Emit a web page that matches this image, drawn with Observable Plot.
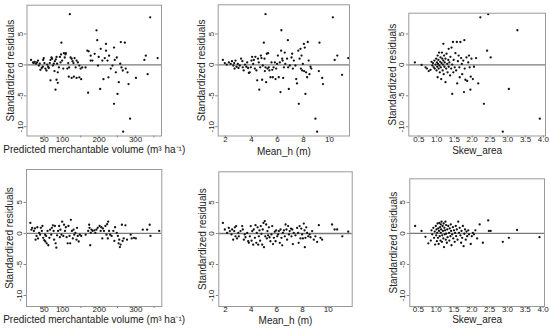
<!DOCTYPE html>
<html><head><meta charset="utf-8">
<script src="https://cdn.jsdelivr.net/npm/d3@7"></script>
<script src="https://cdn.jsdelivr.net/npm/@observablehq/plot@0.6"></script>
<style>
body{margin:0;background:#fff}
#c{position:relative;width:550px;height:328px;overflow:hidden;font-family:"Liberation Sans",Arial,sans-serif}
#c > div{position:absolute}
</style></head><body><div id="c"></div>
<script>
// Top row: model 1 residuals vs predictors
const volTop = [[13.8,0.8],[19.3,0.4],[21,0.3],[24,0.5],[27.5,0.2],[30,0.4],[33,0.7],[35,-0.1],[37.6,0.2],[39.4,-0.8],[43,-0.5],[46,-0.3],[47,0.8],[48.6,1.1],[50.5,0.3],[53,-0.6],[56,-0.9],[58,0.05],[60.6,-0.3],[62.4,-0.5],[65,0.3],[67,0.8],[69.7,1.2],[71.6,1.0],[73.4,-0.1],[76,0.2],[78,-1.0],[79,0.6],[81.7,0.9],[83.5,1.3],[85,0.2],[87,-1.2],[90,-0.4],[92.7,1.3],[94.5,0.4],[96,1.7],[99,0.7],[102,-0.6],[103.7,1.9],[106,1.2],[109,1.9],[113,-0.6],[115.6,0.3],[118,-0.4],[122,1.2],[125,1.0],[127.5,0.6],[130,0.3],[133,1.1],[136,-0.4],[138.5,0.7],[142,0.4],[146,-0.1],[149.5,-0.6],[154,-0.4],[67,-2.5],[83.5,-2.4],[87,-2.9],[80.7,-4.0],[117,-1.9],[125,-2.1],[131,-1.9],[138.5,-2.1],[146,-2.0],[151,-2.3],[120,8.2],[97,3.6],[108,1.7],[163,-0.4],[168,2.3],[171.6,2.2],[170,-4.5],[177,0.7],[181.7,0.7],[177,1.5],[188,1.8],[193,5.6],[195,4.0],[199,1.3],[197,-0.1],[204.6,2.6],[203,-3.9],[209,0.7],[212,-2.3],[215.6,1.1],[219,3.4],[219,2.3],[223,0.7],[225.7,-2.0],[227.5,1.5],[232,-0.6],[236.7,-0.1],[241,2.8],[243,0.8],[246,-1.2],[248.6,1.2],[250.5,-4.7],[254,-2.8],[241,-6.3],[258,0.2],[259.6,3.7],[261.5,-0.4],[265,-0.9],[266,-10.8],[270.6,3.6],[273,-0.6],[278,-1.2],[280.7,-3.1],[285,-8.7],[301,-2.1],[324,0.8],[328,1.5],[333,-1.5],[340,7.7],[360.5,1.1]];
const hTop = [[1.8,0.8],[1.95,0.3],[2.1,0.05],[2.26,0.4],[2.4,0.15],[2.5,0.6],[2.6,-0.1],[2.67,0.3],[2.7,-0.6],[2.77,0.7],[2.85,-0.3],[2.95,0.15],[3.0,-0.5],[3.1,-0.1],[3.2,1.0],[3.3,0.6],[3.33,-0.4],[3.4,-0.9],[3.5,0.05],[3.6,-0.3],[3.67,0.4],[3.74,-0.5],[3.8,-1.3],[3.87,-1.2],[3.95,-0.4],[4.0,0.7],[4.05,1.3],[4.13,0.15],[4.18,0.8],[4.26,-0.6],[4.3,1.3],[4.38,-0.9],[4.44,-2.5],[4.5,1.0],[4.56,0.4],[4.6,-4.0],[4.67,-0.4],[4.72,1.5],[4.77,1.1],[4.82,-2.4],[4.87,-0.1],[4.95,3.6],[5.0,1.0],[5.03,-1.0],[5.08,8.2],[5.08,-0.4],[5.13,-2.8],[5.18,1.8],[5.23,-0.6],[5.28,1.9],[5.33,-0.4],[5.38,-0.9],[5.46,-2.0],[5.54,0.4],[5.6,-0.8],[5.64,-2.0],[5.7,-0.4],[5.8,0.4],[5.85,-2.3],[5.9,-0.6],[5.97,0.15],[6.03,1.5],[6.1,-2.0],[6.18,0.4],[6.23,-4.4],[6.28,2.3],[6.3,5.6],[6.36,1.0],[6.4,0.7],[6.44,-2.1],[6.5,-0.4],[6.56,2.0],[6.6,0.15],[6.74,1.0],[6.8,4.0],[6.82,-0.4],[6.87,-3.9],[6.95,-0.1],[7.08,1.2],[7.13,1.8],[7.18,-0.6],[7.26,0.7],[7.38,-0.1],[7.44,-2.3],[7.5,-3.0],[7.6,2.3],[7.64,-6.3],[7.7,1.0],[7.77,2.6],[7.8,-0.6],[7.85,1.5],[7.9,-0.9],[7.95,0.15],[8.03,3.4],[8.05,-1.0],[8.1,2.8],[8.15,-4.7],[8.2,-1.2],[8.28,-2.0],[8.33,3.7],[8.4,0.7],[8.46,-1.5],[8.54,-0.3],[8.6,-0.6],[8.92,-8.7],[9.05,-10.8],[9.18,-1.0],[9.23,3.6],[9.44,-2.1],[9.5,-3.1],[10.26,7.7],[10.4,0.8],[10.6,1.5],[10.97,-1.6],[11.44,1.1]];
const skewTop = [[0.39,0.4],[0.58,0.0],[0.69,-0.4],[0.73,-0.6],[0.78,-1.0],[0.83,-0.8],[0.86,0.5],[0.88,-0.1],[0.9,0.3],[0.92,-0.4],[0.94,0.7],[0.95,-0.6],[0.97,0.05],[0.99,1.0],[1.0,-0.9],[1.01,0.4],[1.02,-0.3],[1.03,1.5],[1.03,-2.0],[1.04,0.15],[1.05,0.8],[1.06,-0.6],[1.07,2.0],[1.08,-0.1],[1.09,-1.2],[1.1,0.5],[1.11,1.2],[1.12,-0.4],[1.13,-2.3],[1.14,0.3],[1.15,2.0],[1.16,1.0],[1.17,-0.9],[1.18,0.05],[1.19,0.7],[1.19,3.4],[1.2,-1.5],[1.21,1.5],[1.22,-0.3],[1.23,0.4],[1.25,-2.8],[1.25,1.0],[1.27,-0.6],[1.28,1.8],[1.3,0.15],[1.31,-1.2],[1.33,0.8],[1.34,2.6],[1.34,-0.3],[1.36,0.4],[1.38,-1.7],[1.39,1.3],[1.41,-0.6],[1.42,2.8],[1.44,0.05],[1.44,-4.7],[1.46,3.7],[1.47,-1.2],[1.48,0.8],[1.51,-0.4],[1.53,1.9],[1.55,-0.9],[1.57,3.7],[1.58,-3.0],[1.6,0.6],[1.62,1.5],[1.64,-0.4],[1.65,-2.0],[1.67,3.7],[1.69,1.1],[1.71,0.15],[1.72,-1.5],[1.75,0.7],[1.77,-4.4],[1.78,4.0],[1.79,-0.6],[1.81,-2.4],[1.84,1.2],[1.86,-2.6],[1.89,0.4],[1.91,1.5],[1.93,-0.4],[1.95,-4.0],[1.96,-1.9],[1.98,1.0],[2.02,-2.3],[2.05,-0.3],[2.11,1.1],[2.17,-3.0],[2.23,7.7],[2.33,-6.3],[2.42,2.3],[2.45,8.2],[2.52,1.2],[2.86,-10.8],[3.03,-3.9],[3.27,5.6],[3.9,-8.7]];
// Bottom row: model 2 residuals vs predictors
const volBottom = [[12,1.7],[15,0.6],[17,0.9],[21.7,0.4],[24.5,0.8],[26.4,-1.0],[29,-0.4],[31,1.0],[33,-0.8],[36,0.1],[38.7,-0.2],[40.6,0.9],[43.4,0.4],[45,1.2],[47,-0.7],[50,-1.1],[52,-0.2],[53,-1.3],[55,-0.4],[56.6,-1.6],[59,0.4],[61,-1.9],[64,-0.7],[66,0.6],[69,-0.2],[70.8,0.9],[73.6,1.3],[75.5,0.4],[77,-1.0],[79,1.2],[81,-1.6],[83,-2.3],[85,-0.3],[87.7,0.4],[90.6,1.2],[92.5,-0.6],[94,0.6],[97,-0.2],[99,1.9],[102,-0.4],[104,1.4],[106.6,0.4],[109,1.0],[111,-0.6],[114,-1.6],[116,1.2],[119,-0.4],[120.8,-1.6],[122.6,2.2],[125.5,0.4],[128,-0.8],[130,0.6],[132,-0.2],[135,0.1],[138,-1.0],[139.6,0.9],[141.5,-0.4],[144,-1.3],[147,-0.2],[151,-0.4],[163,-0.2],[170,0.4],[172.6,1.4],[173.6,0.9],[175.5,-1.9],[177,0.1],[179,0.6],[182,0.4],[187,0.5],[189.6,0.1],[192.5,0.6],[196,0.9],[201,1.2],[204,0.4],[205.7,1.0],[208.5,-0.8],[210,0.8],[213,0.4],[217,1.2],[220,-0.2],[221.7,1.5],[223.6,-0.8],[224.5,1.9],[227,0.4],[230,-0.2],[234,-0.4],[238.7,0.4],[241.5,-1.2],[243.4,1.0],[248,0.1],[251,-0.4],[253,-1.6],[254.7,-1.0],[256.6,-2.2],[258.5,-1.8],[262,1.4],[264,-1.2],[267,-0.8],[271.7,1.3],[276,-1.0],[286,-0.2],[288.7,-0.8],[295,-0.7],[300,-0.8],[319,0.6],[331,0.6],[338,1.4],[340,-0.4],[364,0.4]];
const hBottom = [[1.8,1.7],[1.95,0.65],[2.13,0.1],[2.26,0.9],[2.34,0.4],[2.47,-0.15],[2.52,0.65],[2.6,-1.0],[2.68,0.4],[2.73,1.0],[2.78,-0.45],[2.83,1.2],[2.9,-0.8],[3.0,0.1],[3.04,-0.45],[3.17,0.4],[3.3,1.2],[3.35,0.65],[3.43,-1.0],[3.5,-0.15],[3.56,-0.6],[3.69,0.1],[3.77,-1.25],[3.82,-1.5],[3.9,-0.45],[3.97,1.2],[4.03,-1.15],[4.08,0.4],[4.16,-1.8],[4.2,0.65],[4.29,-0.7],[4.34,1.35],[4.4,-1.5],[4.44,0.1],[4.5,1.0],[4.55,-1.8],[4.6,-0.45],[4.65,0.5],[4.7,-1.15],[4.75,1.2],[4.8,-0.05],[4.86,-1.8],[4.9,0.65],[4.96,1.7],[5.0,-2.2],[5.06,2.0],[5.1,-0.45],[5.17,1.45],[5.22,-0.8],[5.27,0.4],[5.32,-0.3],[5.38,1.0],[5.43,-0.6],[5.5,-1.25],[5.58,-0.15],[5.64,1.2],[5.7,-1.7],[5.77,-0.7],[5.84,0.3],[5.9,-1.25],[5.95,0.5],[6.03,-0.45],[6.1,-0.15],[6.16,0.4],[6.23,-1.5],[6.29,0.65],[6.36,-0.7],[6.42,-1.9],[6.47,0.1],[6.55,0.5],[6.62,-0.45],[6.68,1.45],[6.75,0.65],[6.8,-1.0],[6.88,1.2],[6.94,-0.15],[7.0,0.4],[7.1,0.8],[7.14,-0.45],[7.2,0.65],[7.25,-1.7],[7.32,0.1],[7.45,-0.3],[7.58,0.9],[7.66,0.1],[7.7,-1.5],[7.77,1.2],[7.84,-0.8],[7.9,0.8],[7.97,-0.15],[8.03,-0.8],[8.1,1.6],[8.16,0.5],[8.18,-2.2],[8.23,-0.7],[8.29,1.0],[8.36,0.1],[8.44,-0.45],[8.55,-0.15],[8.62,-0.6],[8.75,0.4],[8.88,-1.0],[9.0,-0.45],[9.14,-1.35],[9.27,1.35],[9.4,-0.7],[9.53,-1.0],[10.3,1.45],[10.5,0.65],[10.7,0.65],[11.1,-0.45],[11.56,0.3]];
const skewBottom = [[0.41,1.2],[0.59,0.4],[0.7,-0.55],[0.78,-1.6],[0.85,-1.15],[0.87,0.5],[0.89,-0.15],[0.92,0.9],[0.94,-0.7],[0.96,0.3],[0.97,-1.8],[0.99,1.2],[1.0,-0.3],[1.01,0.65],[1.02,-1.25],[1.03,0.1],[1.04,1.6],[1.05,-0.7],[1.06,0.8],[1.07,-1.7],[1.08,0.4],[1.09,1.7],[1.1,-0.45],[1.11,1.0],[1.12,-1.15],[1.13,1.45],[1.13,0.1],[1.14,0.65],[1.15,1.9],[1.16,-1.35],[1.17,-0.3],[1.18,1.2],[1.19,0.4],[1.2,-0.8],[1.21,1.6],[1.22,-2.2],[1.23,0.9],[1.24,-0.15],[1.25,0.5],[1.26,1.9],[1.27,-1.0],[1.28,1.35],[1.28,-0.05],[1.3,-1.5],[1.31,0.65],[1.32,-0.6],[1.34,1.2],[1.36,0.1],[1.37,-1.15],[1.38,0.8],[1.4,-0.45],[1.41,1.45],[1.42,0.4],[1.43,-1.9],[1.45,-0.15],[1.47,1.0],[1.48,-0.8],[1.5,0.5],[1.52,-1.35],[1.53,0.1],[1.55,1.2],[1.56,-0.45],[1.58,0.65],[1.6,-1.0],[1.62,1.9],[1.64,0.1],[1.66,0.9],[1.68,-0.3],[1.7,-1.5],[1.71,0.4],[1.73,-0.7],[1.75,1.2],[1.77,-2.05],[1.79,-0.05],[1.81,0.65],[1.83,-1.0],[1.85,0.3],[1.87,-0.45],[1.9,0.5],[1.92,-0.15],[1.97,-1.7],[2.0,-0.45],[2.03,0.1],[2.06,-0.15],[2.1,0.5],[2.15,-0.8],[2.22,1.45],[2.31,-1.5],[2.46,2.1],[2.48,0.4],[2.53,0.4],[2.87,-1.35],[3.04,-0.7],[3.27,0.55],[3.9,-0.6]];

const volTicks = [50,100,150,200,250,300,350];
const volLabels = [50,100,200,300];
const hTicks = [2,4,6,8,10];
const skewTicks = [0.5,1.0,1.5,2.0,2.5,3.0,3.5,4.0];
const resTicks = [-10,-5,0,5];
const yTitle = "Standardized residuals";
const volTitle = "Predicted merchantable volume (m³ ha⁻¹)";
const hTitle = "Mean_h (m)";
const skewTitle = "Skew_area";

const skewFmt = d => d.toFixed(1);
const hFmt = d => String(d);
const volFmt = d => String(d);

const panels = [
  {left:0,   top:0,   w:185, m:[4.7,24,28.5,26.5],  xd:[2.7,371],   yd:[-11.5,9.66], data:volTop,  ticks:volTicks, labels:volLabels, fmt:volFmt,  title:volTitle,  tdy:14},
  {left:185, top:0,   w:180, m:[4.3,16,28.5,32.7],  xd:[1.44,11.54],yd:[-11.5,9.72], data:hTop,    ticks:hTicks,   labels:hTicks,    fmt:hFmt,    title:hTitle,    tdy:15.5},
  {left:365, top:0,   w:185, m:[12.7,5,28.5,43.3],  xd:[0.22,4.06], yd:[-11.5,8.36], data:skewTop, ticks:skewTicks,labels:skewTicks, fmt:skewFmt, title:skewTitle, tdy:15},
  {left:0,   top:164, w:185, m:[5,23.7,22,26],      xd:[1.5,371],   yd:[-11.77,10.3],data:volBottom,ticks:volTicks,labels:volLabels, fmt:volFmt,  title:volTitle,  tdy:13.5},
  {left:185, top:164, w:180, m:[7.3,13.3,22,33.3],  xd:[1.48,11.87],yd:[-11.77,9.95],data:hBottom, ticks:hTicks,   labels:hTicks,    fmt:hFmt,    title:hTitle,    tdy:14},
  {left:365, top:164, w:185, m:[14.3,6,22,44.3],    xd:[0.26,4.04], yd:[-11.77,8.8], data:skewBottom,ticks:skewTicks,labels:skewTicks,fmt:skewFmt,title:skewTitle, tdy:13.5}
];

const root = document.getElementById("c");
for (const p of panels) {
  const chart = Plot.plot({
    width: p.w, height: 164,
    marginTop: p.m[0], marginRight: p.m[1], marginBottom: p.m[2], marginLeft: p.m[3],
    style: {fontFamily: '"Liberation Sans", Arial, sans-serif', fontSize: "8px", color: "#222", background: "transparent", overflow: "visible"},
    x: {domain: p.xd},
    y: {domain: p.yd},
    marks: [
      Plot.ruleY([0], {stroke: "#7a7a7a", strokeWidth: 1.3}),
      Plot.dot(p.data, {x: d => d[0], y: d => d[1], r: 1.15, fill: "#111", stroke: "none"}),
      Plot.frame({stroke: "#999", strokeWidth: 1}),
      // tick marks (all ticks), then tick labels (only the labelled ones)
      Plot.axisX({ticks: p.ticks, tickSize: 2, text: null, stroke: "#888", label: null}),
      Plot.axisX({ticks: p.labels, tickFormat: p.fmt, tickSize: 0, tickPadding: 0, label: null, fontSize: 8}),
      Plot.axisY({ticks: resTicks, tickSize: 2.5, text: null, stroke: "#888", label: null}),
      Plot.text(resTicks, {y: d => d, text: d => String(d), frameAnchor: "left", dx: -7, rotate: -90, fontSize: 8, lineAnchor: "middle", textAnchor: "middle", fill: "#222"}),
      Plot.text([p.title], {text: d => d, frameAnchor: "bottom", dy: p.tdy, fontSize: 10, lineAnchor: "middle", textAnchor: "middle", fill: "#222"}),
      Plot.text([yTitle], {text: d => d, frameAnchor: "left", dx: -16.5, rotate: -90, fontSize: 10, lineAnchor: "middle", textAnchor: "middle", fill: "#222"})
    ]
  });
  const div = document.createElement("div");
  div.style.left = p.left + "px";
  div.style.top = p.top + "px";
  div.appendChild(chart);
  root.appendChild(div);
}
</script></body></html>
